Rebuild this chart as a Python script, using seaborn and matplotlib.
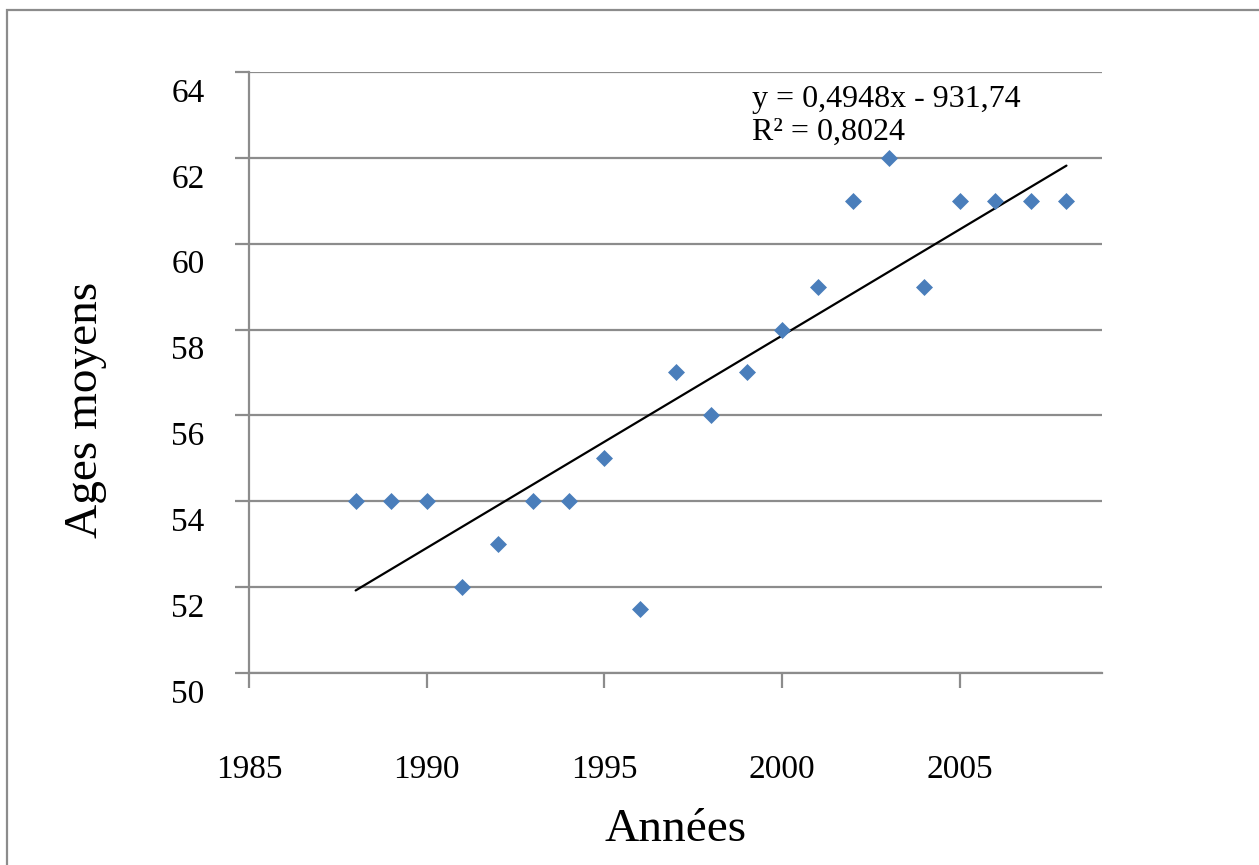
import numpy as np
import pandas as pd
import matplotlib.pyplot as plt
import matplotlib.transforms as mtransforms
from matplotlib.patches import Rectangle
import seaborn as sns

# données
annees = [1988, 1989, 1990, 1991, 1992, 1993, 1994, 1995, 1996, 1997, 1998,
          1999, 2000, 2001, 2002, 2003, 2004, 2005, 2006, 2007, 2008]
ages = [54, 54, 54, 52, 53, 54, 54, 55, 51.5, 57, 56,
        57, 58, 59, 61, 62, 59, 61, 61, 61, 61]

# courbe de tendance (équation affichée)
pente = 0.4948
ordonnee = -931.74
r2 = 0.8024

x_ticks = [1985, 1990, 1995, 2000, 2005]
y_ticks = [50, 52, 54, 56, 58, 60, 62, 64]

df = pd.DataFrame({"Années": annees, "Ages moyens": ages})

sns.set_theme(style="white")
plt.rcParams['font.family'] = ['Liberation Serif', 'DejaVu Serif']

fig = plt.figure(figsize=(12.59, 8.65), dpi=100)
ax = fig.add_axes([0.1978, 0.2220, 0.6775, 0.6948])

gris = "#8c8c8c"

# cadre extérieur (seulement haut et gauche visibles)
fig.add_artist(Rectangle((0.0056, -0.2), 1.2, 1.1884, transform=fig.transFigure,
                         fill=False, edgecolor=gris, linewidth=1.6, clip_on=False))

sns.scatterplot(data=df, x="Années", y="Ages moyens", ax=ax, marker="D",
                s=75, color="#4a7ebb", linewidth=0, zorder=3)

xt = np.array([min(annees), max(annees)])
ax.plot(xt, pente * xt + ordonnee, color="black", linewidth=1.6, zorder=2)

ax.set_xlim(1985, 2009)
ax.set_ylim(50, 64)
ax.set_xticks(x_ticks)
ax.set_yticks(y_ticks)

ax.yaxis.grid(True, color=gris, linewidth=1.6)
ax.xaxis.grid(False)
for s in ["top", "right"]:
    ax.spines[s].set_visible(False)
for s in ["left", "bottom"]:
    ax.spines[s].set_color(gris)
    ax.spines[s].set_linewidth(1.6)

ax.tick_params(axis="y", direction="out", length=10, width=1.6, color=gris,
               labelsize=24, pad=22, left=True, labelcolor="black")
ax.tick_params(axis="x", direction="out", length=11, width=1.6, color=gris,
               labelsize=24, pad=48, bottom=True, labelcolor="black")

# décalage vertical des étiquettes y comme dans l'original
decal = mtransforms.ScaledTranslation(0, -18 / 100, fig.dpi_scale_trans)
for lab in ax.get_yticklabels():
    lab.set_transform(lab.get_transform() + decal)

ax.set_xlabel("Années", fontsize=34, color="black")
ax.set_ylabel("Ages moyens", fontsize=34, color="black")
ax.xaxis.set_label_coords(0.5006, -0.261)
ax.yaxis.set_label_coords(-0.192, 0.4376)
ax.xaxis.label.set_va("center")
ax.yaxis.label.set_va("center")

ax.text(1999.15, 63.7,
        f"y = {str(pente).replace('.', ',')}x - {str(-ordonnee).replace('.', ',')}\n"
        f"R² = {str(r2).replace('.', ',')}",
        fontsize=23, va="top", ha="left", linespacing=1.2, color="black")

fig.savefig("out.png", dpi=100, facecolor="white")
